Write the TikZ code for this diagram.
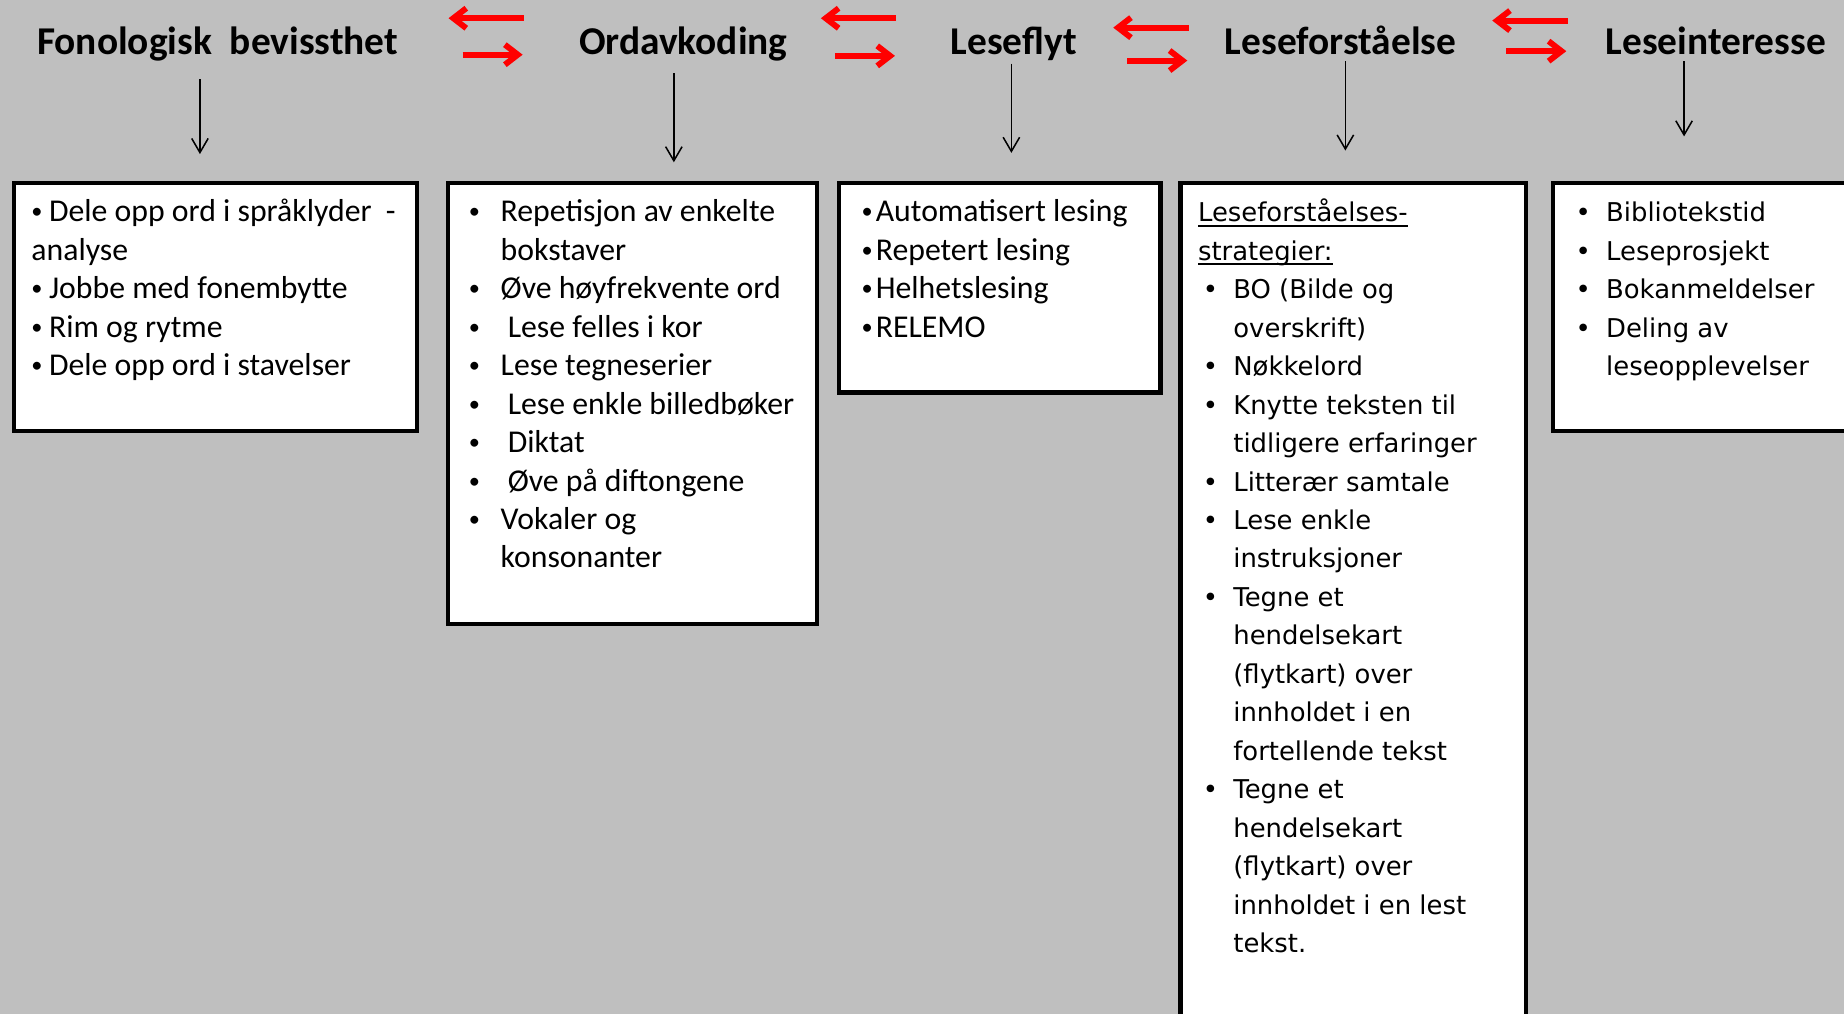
\documentclass[tikz,border=0pt]{standalone}
\usepackage{fontspec}
\setmainfont{Carlito}
\newfontfamily\verd{DejaVu Sans}
\usetikzlibrary{arrows.meta,calc}
\definecolor{bggray}{RGB}{191,191,191}
\newcommand\bsym{\raisebox{2.5pt}{\fontsize{19}{19}\selectfont\textbullet}}
\newcommand\bul[2][15pt]{\makebox[#1][l]{\bsym}#2}
\newcommand\cnt[2][27pt]{\hspace*{#1}#2}
\newcommand\undl[1]{\setbox0\hbox{#1}\rlap{\rule[-4pt]{\wd0}{1.4pt}}\box0}
\newcommand\boxtext[3]{\begin{minipage}[t][#2][t]{#1}\begin{tabular}[t]{@{}l@{}}#3\end{tabular}\end{minipage}}

\begin{document}
\begin{tikzpicture}[x=1pt,y=1pt,
	ttl/.style={font=\fontsize{33.5}{40}\selectfont\bfseries, anchor=base, inner sep=0pt, text height=23pt, text depth=8pt},
	box/.style={draw, line width=3.5pt, fill=white, anchor=north west, inner xsep=15pt, inner ysep=10pt, font=\fontsize{27}{32.7}\selectfont},
	vbox/.style={box, font=\fontsize{22}{32.7}\selectfont\verd\let\bsym\textbullet},
	darr/.style={line width=1.3pt, -{Straight Barb[length=12pt,width=14pt]}},
	rarr/.style={red, line width=5pt, -{Straight Barb[length=11pt,width=17pt]}}]
	\useasboundingbox (0,0) rectangle (1568,-862);
	\clip (0,0) rectangle (1568,-862);
	\fill[bggray] (0,0) rectangle (1568,-862);

	% boxes
	\node[box] (b1) at (10,-154) {\boxtext{313pt}{191pt}{%
		\bul{Dele opp ord i språklyder\ \ -}\\
		analyse\\
		\bul{Jobbe med fonembytte}\\
		\bul{Rim og rytme}\\
		\bul{Dele opp ord i stavelser}}};
	\node[box, inner xsep=18pt] (b2) at (379,-154) {\boxtext{278pt}{355pt}{%
		\bul[27pt]{Repetisjon av enkelte}\\
		\cnt{bokstaver}\\
		\bul[27pt]{Øve høyfrekvente ord}\\
		\bul[27pt]{\hspace{6pt}Lese felles i kor}\\
		\bul[27pt]{Lese tegneserier}\\
		\bul[27pt]{\hspace{6pt}Lese enkle billedbøker}\\
		\bul[27pt]{\hspace{6pt}Diktat}\\
		\bul[27pt]{\hspace{6pt}Øve på diftongene}\\
		\bul[27pt]{Vokaler og}\\
		\cnt{konsonanter}}};
	\node[box, inner xsep=19pt] (b3) at (712,-154) {\boxtext{235pt}{158pt}{%
		\bul[12pt]{Automatisert lesing}\\
		\bul[12pt]{Repetert lesing}\\
		\bul[12pt]{Helhetslesing}\\
		\bul[12pt]{RELEMO}}};
	\node[vbox] (b4) at (1002,-154) {\boxtext{264pt}{704pt}{%
		\undl{Leseforståelses-}\\
		\undl{strategier:}\\
		\cnt[4pt]{\bul[26pt]{BO (Bilde og}}\\
		\cnt[30pt]{overskrift)}\\
		\cnt[4pt]{\bul[26pt]{Nøkkelord}}\\
		\cnt[4pt]{\bul[26pt]{Knytte teksten til}}\\
		\cnt[30pt]{tidligere erfaringer}\\
		\cnt[4pt]{\bul[26pt]{Litterær samtale}}\\
		\cnt[4pt]{\bul[26pt]{Lese enkle}}\\
		\cnt[30pt]{instruksjoner}\\
		\cnt[4pt]{\bul[26pt]{Tegne et}}\\
		\cnt[30pt]{hendelsekart}\\
		\cnt[30pt]{(flytkart) over}\\
		\cnt[30pt]{innholdet i en}\\
		\cnt[30pt]{fortellende tekst}\\
		\cnt[4pt]{\bul[26pt]{Tegne et}}\\
		\cnt[30pt]{hendelsekart}\\
		\cnt[30pt]{(flytkart) over}\\
		\cnt[30pt]{innholdet i en lest}\\
		\cnt[30pt]{tekst.}}};
	\node[vbox, inner xsep=19pt] (b5) at (1319,-154) {\boxtext{232pt}{191pt}{%
		\bul[26pt]{Bibliotekstid}\\
		\bul[26pt]{Leseprosjekt}\\
		\bul[26pt]{Bokanmeldelser}\\
		\bul[26pt]{Deling av}\\
		\cnt[26pt]{leseopplevelser}}};

	% titles
	\node[ttl] (t1) at (185,-46) {Fonologisk\ \ bevissthet};
	\node[ttl] (t2) at (581,-46) {Ordavkoding};
	\node[ttl] (t3) at (862,-46) {Leseflyt};
	\node[ttl] (t4) at (1140,-46) {Leseforståelse};
	\node[ttl] (t5) at (1459,-46) {Leseinteresse};

	% arrows down
	\foreach \t/\b/\dx/\s/\e in {t1/b1/-15/13/23, t2/b2/-8/8/16, t3/b3/-2/0/24, t4/b4/4/-2/26, t5/b5/-27/-2/38}
		\draw[darr, shorten <=\s pt, shorten >=\e pt] ([xshift=\dx pt]\t.south) coordinate (a) -- (a |- \b.north);

	% red arrows
	\foreach \a/\b/\dx/\yl/\yr in {t1/t2/-2/23/-8, t2/t3/-9/23/-9, t3/t4/0/15/-13, t4/t5/-1/21/-5}{
		\coordinate (m) at ($(\a.east)!.5!(\b.west)$);
		\draw[rarr] ([shift={(\dx+32,\yl)}]m) -- ([shift={(\dx-32,\yl)}]m);
		\draw[rarr] ([shift={(\dx-20,\yr)}]m) -- ([shift={(\dx+31,\yr)}]m);
	}
\end{tikzpicture}
\end{document}
